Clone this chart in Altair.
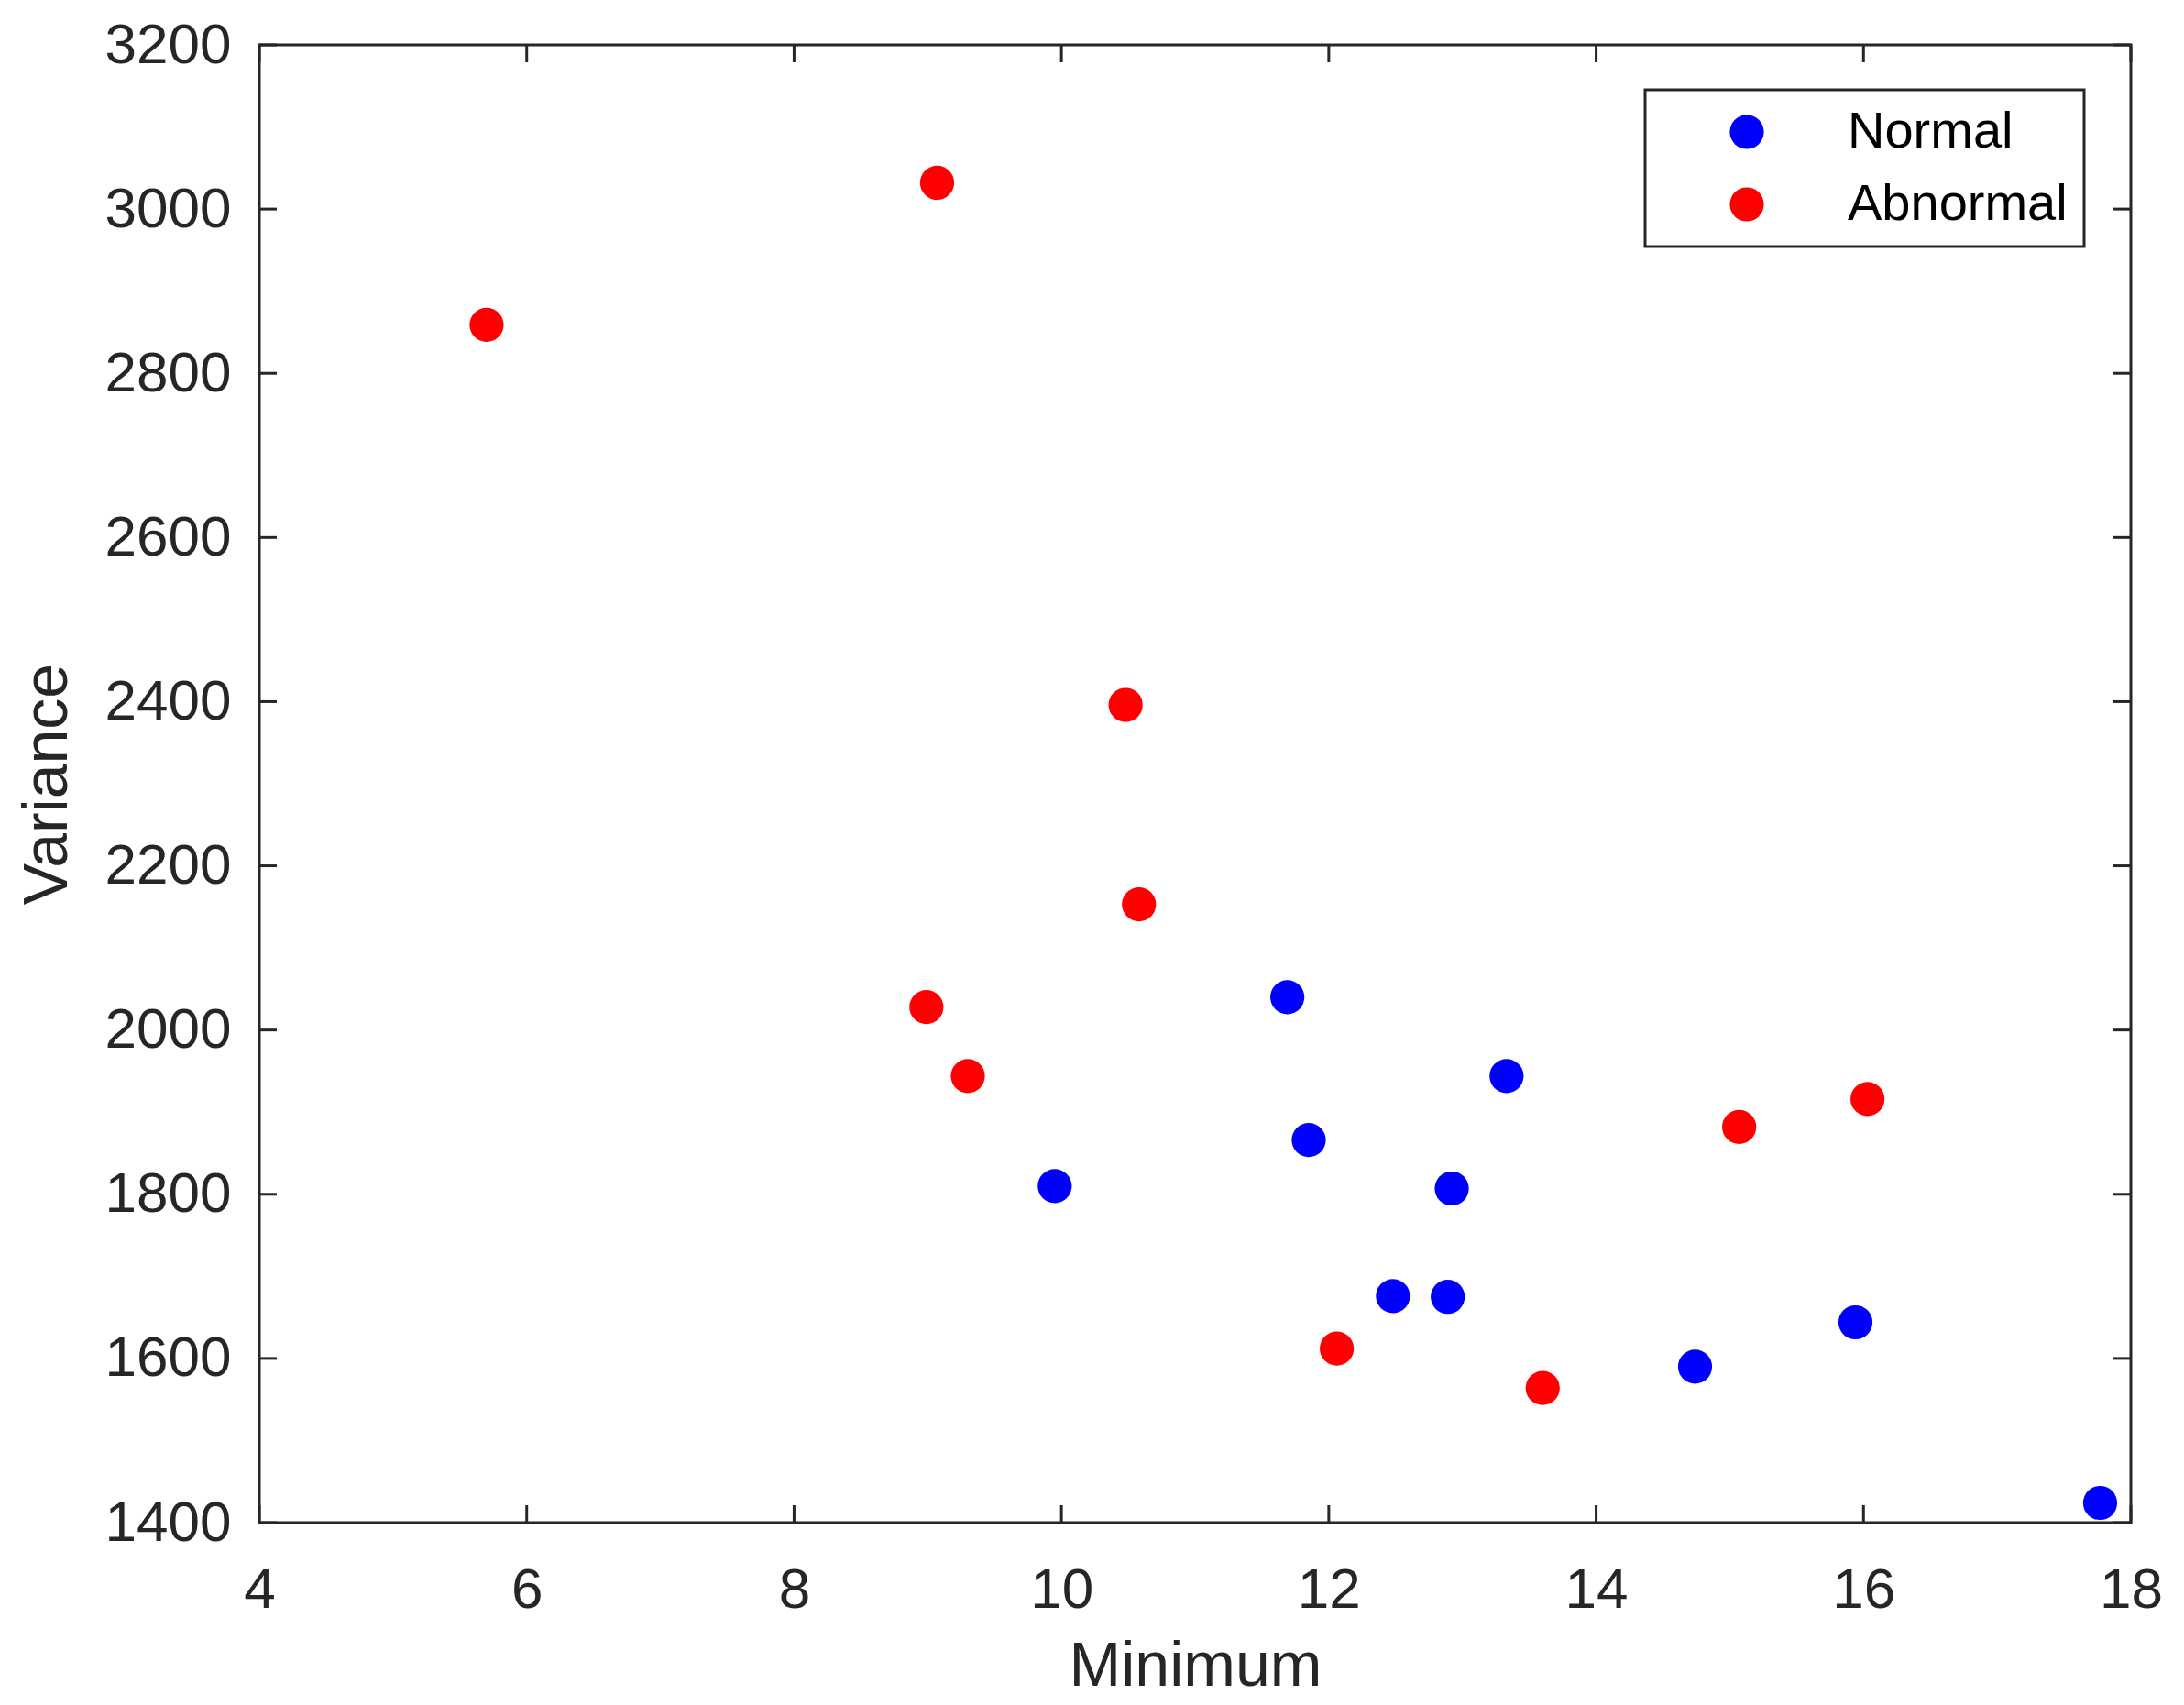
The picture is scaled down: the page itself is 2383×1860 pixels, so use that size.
import altair as alt
import pandas as pd

# ---- data ----
normal_x = [11.69, 9.95, 11.85, 13.33, 12.92, 12.48, 12.89, 14.74, 15.94, 17.77]
normal_y = [2040, 1810, 1866, 1944, 1807, 1676, 1675, 1590, 1644, 1424]
abnormal_x = [5.70, 9.07, 10.48, 10.58, 8.99, 9.30, 12.06, 13.60, 15.07, 16.03]
abnormal_y = [2859, 3032, 2396, 2153, 2028, 1944, 1612, 1564, 1882, 1916]
classes = ["Normal", "Abnormal"]
class_colors = ["#0000ff", "#ff0000"]
x_ticks = [4, 6, 8, 10, 12, 14, 16, 18]
y_ticks = [1400, 1600, 1800, 2000, 2200, 2400, 2600, 2800, 3000, 3200]

W, H = 2042, 1612
TICK = 19
AX = "#262626"
FONT = "Liberation Sans"
DOT = 1385

pts = pd.DataFrame({
    "Minimum": normal_x + abnormal_x,
    "Variance": normal_y + abnormal_y,
    "Class": [classes[0]] * len(normal_x) + [classes[1]] * len(abnormal_x),
})
xt = pd.DataFrame({"Minimum": x_ticks})
yt = pd.DataFrame({"Variance": y_ticks})

xscale = alt.Scale(domain=[4, 18], nice=False, zero=False)
yscale = alt.Scale(domain=[1400, 3200], nice=False, zero=False)

common_axis = dict(domain=False, ticks=False, grid=False, format="d",
                   labelFont=FONT, labelFontSize=62, labelColor=AX,
                   labelFlush=False, labelOverlap=False,
                   titleFont=FONT, titleFontSize=68, titleFontWeight="normal",
                   titleColor=AX)

x_axis = alt.Axis(values=x_ticks, title="Minimum", labelPadding=43,
                  titleX=W / 2, titleY=177, titleAlign="center",
                  titleBaseline="alphabetic", **common_axis)
y_axis = alt.Axis(values=y_ticks, title="Variance", labelPadding=31,
                  titleX=-211, titleY=H / 2, titleAngle=270,
                  titleAlign="center", titleBaseline="alphabetic",
                  **common_axis)

points = alt.Chart(pts).mark_circle(size=DOT, opacity=1).encode(
    x=alt.X("Minimum:Q", scale=xscale, axis=x_axis),
    y=alt.Y("Variance:Q", scale=yscale, axis=y_axis),
    color=alt.Color("Class:N",
                    scale=alt.Scale(domain=classes, range=class_colors),
                    legend=alt.Legend(title=None, orient="none",
                                      legendX=1512, legendY=49,
                                      direction="vertical",
                                      symbolType="circle", symbolSize=DOT,
                                      symbolStrokeWidth=0, symbolOpacity=1,
                                      labelFont=FONT, labelFontSize=56,
                                      labelColor="black", labelLimit=500,
                                      padding=18, rowPadding=23,
                                      symbolOffset=65, labelOffset=82,
                                      strokeColor=AX, fillColor="white")),
)

rule_style = dict(color=AX, strokeWidth=3)
bottom_ticks = alt.Chart(xt).mark_rule(**rule_style).encode(
    x=alt.X("Minimum:Q", scale=xscale, axis=x_axis),
    y=alt.value(H), y2=alt.value(H - TICK))
top_ticks = alt.Chart(xt).mark_rule(**rule_style).encode(
    x=alt.X("Minimum:Q", scale=xscale, axis=x_axis),
    y=alt.value(0), y2=alt.value(TICK))
left_ticks = alt.Chart(yt).mark_rule(**rule_style).encode(
    y=alt.Y("Variance:Q", scale=yscale, axis=y_axis),
    x=alt.value(0), x2=alt.value(TICK))
right_ticks = alt.Chart(yt).mark_rule(**rule_style).encode(
    y=alt.Y("Variance:Q", scale=yscale, axis=y_axis),
    x=alt.value(W), x2=alt.value(W - TICK))

chart = alt.layer(
    points, bottom_ticks, top_ticks, left_ticks, right_ticks
).properties(
    width=W, height=H,
    autosize=alt.AutoSizeParams(type="none"),
    padding={"left": 275, "top": 41, "right": 45, "bottom": 191},
    background="white",
).configure_view(
    stroke=AX, strokeWidth=3
).configure_legend(
    strokeWidth=3
)

chart.save("out.html", embed_options={"renderer": "svg", "actions": False})
